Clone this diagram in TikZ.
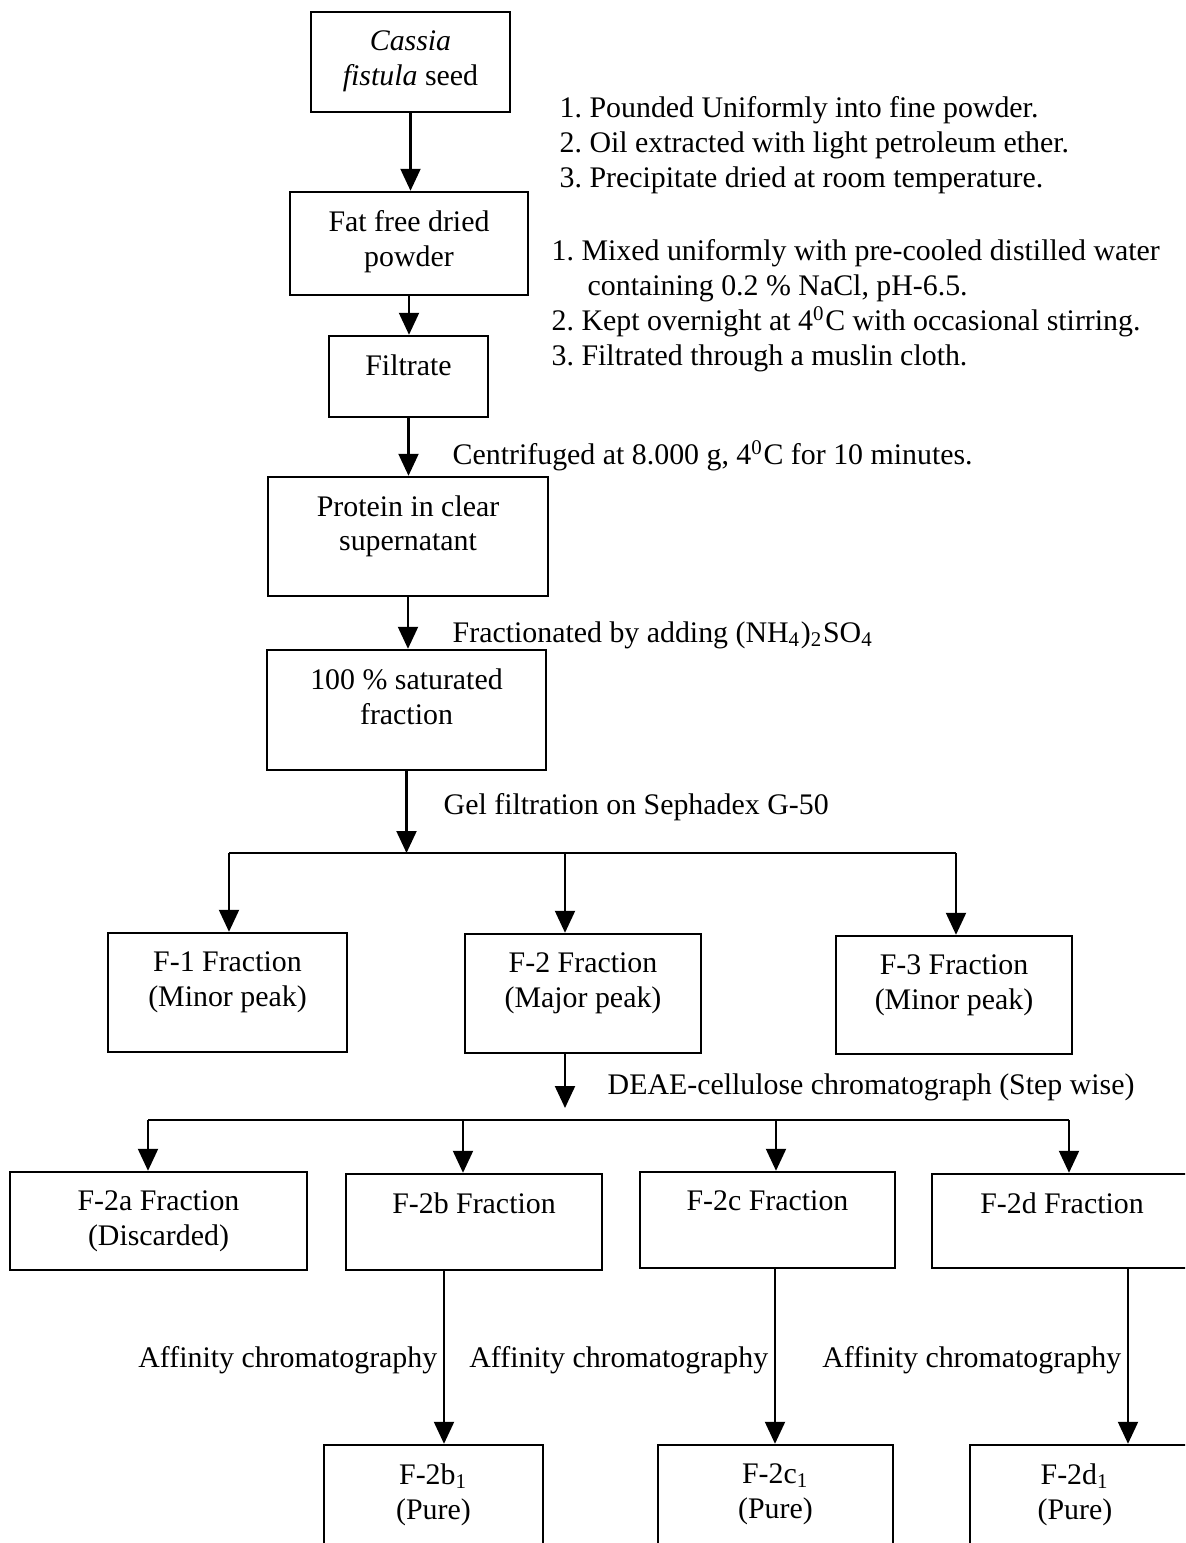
\documentclass[tikz,border=0pt]{standalone}
\usepackage{fontspec}
\setmainfont{Liberation Serif}
\usetikzlibrary{arrows.meta, positioning}

\tikzset{
  box/.style={draw, line width=0.7pt, inner sep=0pt},
  boxtext/.style={anchor=north, yshift=-1.9mm, inner sep=0pt, align=center},
  note/.style={inner sep=0pt, align=left},
  flow/.style={line width=0.6pt},
  arr/.style={flow, -{Triangle[length=2.2mm, width=2mm]}}
}

\begin{document}
\begin{tikzpicture}[x=0.1mm, y=-0.1mm, font=\fontsize{8.5pt}{9.9pt}\selectfont\frenchspacing]
  \useasboundingbox (0,0) rectangle (1185,1543);
  \clip (0,0) rectangle (1185,1543);

  % main column
  \node[box, minimum width=19.9mm, minimum height=10mm] (seed) at (410.5,62) {};
  \node[boxtext] (seedtxt) at (seed.north) {\textit{Cassia}\\\textit{fistula} seed};
  \node[box, minimum width=23.8mm, minimum height=10.3mm] (powder) at (409,243.5) {};
  \node[boxtext] (powdertxt) at (powder.north) {Fat free dried\\powder};
  \node[box, minimum width=15.9mm, minimum height=8.1mm] (filtrate) at (408.5,376.5) {};
  \node[boxtext] (filtratetxt) at (filtrate.north) {Filtrate};
  \node[box, minimum width=28mm, minimum height=11.9mm] (protein) at (408,536.5) {};
  \node[boxtext] (proteintxt) at (protein.north) {Protein in clear\\supernatant};
  \node[box, minimum width=27.9mm, minimum height=12mm] (sat) at (406.5,710) {};
  \node[boxtext] (sattxt) at (sat.north) {100 \% saturated\\fraction};

  % notes beside the column
  \node[note, anchor=north west] (prep) at (559,96)
    {1. Pounded Uniformly into fine powder.\\
     2. Oil extracted with light petroleum ether.\\
     3. Precipitate dried at room temperature.};
  \node[note, anchor=north west] (extract) at (551,239)
    {1. Mixed uniformly with pre-cooled distilled water\\
     \hspace*{3.6mm}containing 0.2 \% NaCl, pH-6.5.\\
     2. Kept overnight at 4\textsuperscript{0}C with occasional stirring.\\
     3. Filtrated through a muslin cloth.};
  \node[note, anchor=base west] (spin) at (452,464)
    {Centrifuged at 8.000 g, 4\textsuperscript{0}C for 10 minutes.};
  \node[note, anchor=base west] (salt) at (452,642)
    {Fractionated by adding (NH\textsubscript{4})\textsubscript{2}SO\textsubscript{4}};
  \node[note, anchor=base west] (gelnote) at (443,814) {Gel filtration on Sephadex G-50};

  \draw[arr] (seed.south) -- (seed.south |- powder.north);
  \draw[arr] (powder.south) -- (powder.south |- filtrate.north);
  \draw[arr] (filtrate.south) -- (filtrate.south |- protein.north);
  \draw[arr] (protein.south) -- (protein.south |- sat.north);

  % gel filtration fractions
  \coordinate (gel) at (407,853);
  \coordinate (splitL) at (229,853);
  \coordinate (splitM) at (565,853);
  \coordinate (splitR) at (956,853);
  \node[box, minimum width=23.9mm, minimum height=11.9mm] (fone) at (227.5,992.5) {};
  \node[boxtext] (fonetxt) at (fone.north) {F-1 Fraction\\(Minor peak)};
  \node[box, minimum width=23.6mm, minimum height=11.9mm] (ftwo) at (583,993.5) {};
  \node[boxtext] (ftwotxt) at (ftwo.north) {F-2 Fraction\\(Major peak)};
  \node[box, minimum width=23.6mm, minimum height=11.8mm] (fthree) at (954,995) {};
  \node[boxtext] (fthreetxt) at (fthree.north) {F-3 Fraction\\(Minor peak)};

  \draw[arr] (sat.south) -- (sat.south |- gel);
  \draw[flow] (splitL) -- (splitR);
  \draw[arr] (splitL) -- (splitL |- fone.north);
  \draw[arr] (splitM) -- (splitM |- ftwo.north);
  \draw[arr] (splitR) -- (splitR |- fthree.north);

  % DEAE fractions
  \node[note, anchor=base west] (deaenote) at (607,1094) {DEAE-cellulose chromatograph (Step wise)};
  \coordinate (deae) at (565,1108);
  \coordinate (lowA) at (148,1120);
  \coordinate (lowB) at (463,1120);
  \coordinate (lowC) at (776,1120);
  \coordinate (lowD) at (1069,1120);
  \node[box, minimum width=29.7mm, minimum height=9.8mm] (fa) at (158.5,1221) {};
  \node[boxtext] (fatxt) at (fa.north) {F-2a Fraction\\(Discarded)};
  \node[box, minimum width=25.6mm, minimum height=9.6mm] (fb) at (474,1222) {};
  \node[boxtext] (fbtxt) at (fb.north) {F-2b Fraction};
  \node[box, minimum width=25.5mm, minimum height=9.6mm] (fc) at (767.5,1220) {};
  \node[boxtext] (fctxt) at (fc.north) {F-2c Fraction};
  \node[box, minimum width=26mm, minimum height=9.4mm] (fd) at (1062,1221) {};
  \node[boxtext] (fdtxt) at (fd.north) {F-2d Fraction};

  \draw[arr] (splitM |- ftwo.south) -- (deae);
  \draw[flow] (lowA) -- (lowD);
  \draw[arr] (lowA) -- (lowA |- fa.north);
  \draw[arr] (lowB) -- (lowB |- fb.north);
  \draw[arr] (lowC) -- (lowC |- fc.north);
  \draw[arr] (lowD) -- (lowD |- fd.north);

  % affinity step
  \coordinate (affb) at (444,1367);
  \coordinate (affc) at (775,1367);
  \coordinate (affd) at (1128,1367);
  \node[box, minimum width=21.9mm, minimum height=11mm] (fbone) at (433.5,1500) {};
  \node[boxtext] (fbonetxt) at (fbone.north) {F-2b\textsubscript{1}\\(Pure)};
  \node[box, minimum width=23.5mm, minimum height=11mm] (fcone) at (775.5,1500) {};
  \node[boxtext] (fconetxt) at (fcone.north) {F-2c\textsubscript{1}\\(Pure)};
  \node[box, minimum width=22.2mm, minimum height=11mm] (fdone) at (1081,1500) {};
  \node[boxtext, xshift=-0.6mm] (fdonetxt) at (fdone.north) {F-2d\textsubscript{1}\\(Pure)};

  \draw[arr] (affb |- fb.south) -- (affb |- fbone.north);
  \draw[arr] (affc |- fc.south) -- (affc |- fcone.north);
  \draw[arr] (affd |- fd.south) -- (affd |- fdone.north);
  \node[note, anchor=base east, xshift=-0.6mm] (affbtxt) at (affb) {Affinity chromatography};
  \node[note, anchor=base east, xshift=-0.6mm] (affctxt) at (affc) {Affinity chromatography};
  \node[note, anchor=base east, xshift=-0.6mm] (affdtxt) at (affd) {Affinity chromatography};
\end{tikzpicture}
\end{document}
